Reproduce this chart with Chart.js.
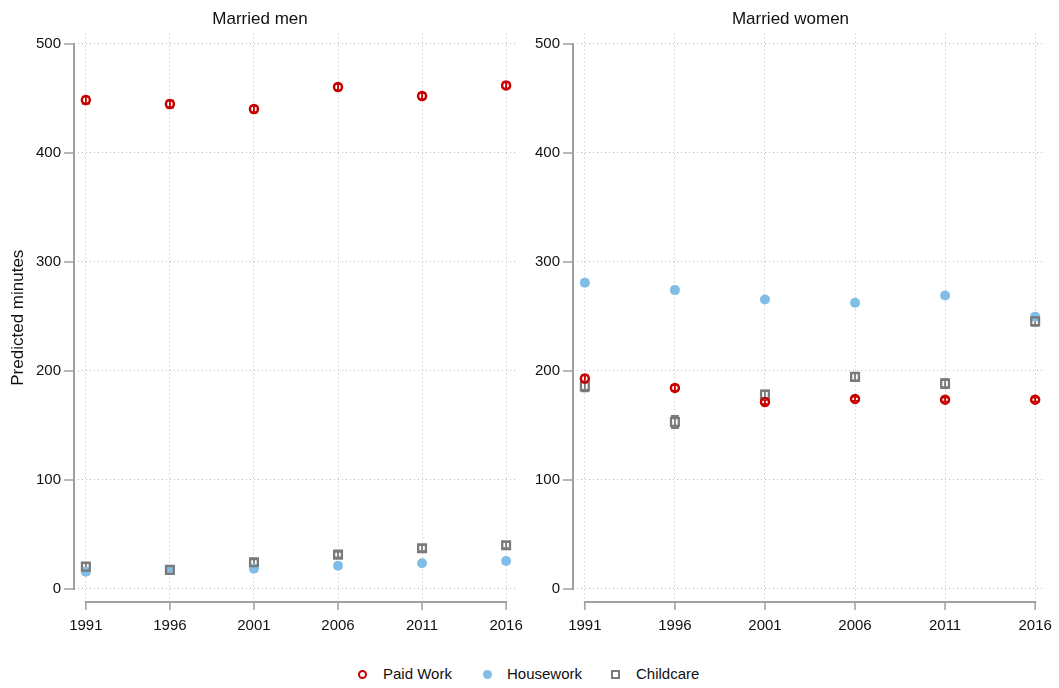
<!DOCTYPE html>
<html>
<head>
<meta charset="utf-8">
<script src="https://cdn.jsdelivr.net/npm/chart.js@4.4.1/dist/chart.umd.min.js"></script>
<style>
  html, body { margin: 0; padding: 0; background: #fff; }
  body { width: 1059px; height: 688px; position: relative; overflow: hidden;
         font-family: 'Liberation Sans Narrow', 'Arial Narrow', 'Liberation Sans', Arial, sans-serif; }
  canvas { position: absolute; top: 0; }
  #left { left: 0; }
  #right { left: 530px; }
  .legend { position: absolute; top: 664px; height: 20px; font-size: 15px; color: #111; }
  .key { position: absolute; top: 0; line-height: 20px; white-space: nowrap; }
  .mk { position: absolute; box-sizing: border-box; }
</style>
</head>
<body>
<canvas id="left" width="530" height="650"></canvas>
<canvas id="right" width="529" height="650"></canvas>
<div class="legend" id="legend"></div>
<script>
// Survey years and axis ticks
const years = [1991, 1996, 2001, 2006, 2011, 2016];
const yTicks = [0, 100, 200, 300, 400, 500];

// Married men: predicted minutes per day and 95% CI half-widths
const menPaid = [448.5, 444.9, 440.3, 460.5, 452.2, 462.0];
const menPaidCI = [3.2, 3.2, 3.0, 2.8, 2.8, 2.8];
const menHouse = [15.9, 17.5, 18.7, 21.4, 23.6, 25.7];
const menHouseCI = [1.5, 1.5, 1.5, 1.5, 1.5, 1.5];
const menChild = [20.5, 17.5, 24.5, 31.5, 37.4, 40.2];
const menChildCI = [3.3, 3.2, 2.8, 2.6, 2.8, 2.8];

// Married women
const womenPaid = [193.0, 184.5, 171.6, 174.4, 173.7, 173.7];
const womenPaidCI = [3.0, 2.5, 2.0, 1.8, 1.8, 1.8];
const womenHouse = [281.0, 274.2, 265.6, 262.6, 269.3, 249.7];
const womenHouseCI = [2.5, 2.5, 2.0, 2.0, 2.0, 2.5];
const womenChild = [185.9, 153.2, 178.3, 194.6, 188.4, 245.7];
const womenChildCI = [4.5, 5.5, 3.7, 3.5, 4.0, 4.2];

const seriesNames = ['Paid Work', 'Housework', 'Childcare'];

const FONT = "'Liberation Sans Narrow', 'Arial Narrow', 'Liberation Sans', Arial, sans-serif";
const RED = '#c80000';
const BLUE = '#80bee8';
const GRAY = '#7a7a7a';
const AXIS = '#a0a0a0';
const GRID = '#bcbcbc';

Chart.defaults.font.family = FONT;
Chart.defaults.color = '#111';

// Range-capped error bars, drawn underneath the markers
const errorBars = {
  id: 'errorBars',
  beforeDatasetsDraw(chart) {
    const ctx = chart.ctx;
    const yScale = chart.scales.y;
    chart.data.datasets.forEach((ds, di) => {
      const meta = chart.getDatasetMeta(di);
      ctx.save();
      ctx.strokeStyle = ds.borderColor;
      ctx.lineWidth = 1.8;
      meta.data.forEach((pt, i) => {
        const v = ds.data[i].y, e = ds.ci[i];
        const yl = yScale.getPixelForValue(v - e);
        const yh = yScale.getPixelForValue(v + e);
        const x = pt.x, w = 4;
        ctx.beginPath();
        ctx.moveTo(x, yl); ctx.lineTo(x, yh);
        ctx.moveTo(x - w, yl); ctx.lineTo(x + w, yl);
        ctx.moveTo(x - w, yh); ctx.lineTo(x + w, yh);
        ctx.stroke();
      });
      ctx.restore();
    });
  }
};

// Axis lines that span only the labelled range, with outward ticks
const rangeAxes = {
  id: 'rangeAxes',
  afterDraw(chart) {
    const { ctx, chartArea, scales: { x, y } } = chart;
    ctx.save();
    ctx.strokeStyle = AXIS;
    ctx.lineWidth = 2;
    ctx.lineCap = 'butt';
    const y0 = y.getPixelForValue(yTicks[0]);
    const y1 = y.getPixelForValue(yTicks[yTicks.length - 1]);
    const xl = chartArea.left;
    ctx.beginPath();
    ctx.moveTo(xl, y0 + 1); ctx.lineTo(xl, y1 - 1);
    ctx.stroke();
    ctx.lineWidth = 1.5;
    ctx.beginPath();
    yTicks.forEach(t => {
      const p = y.getPixelForValue(t);
      ctx.moveTo(xl - 10, p); ctx.lineTo(xl, p);
    });
    ctx.stroke();
    const x0 = x.getPixelForValue(years[0]);
    const x1 = x.getPixelForValue(years[years.length - 1]);
    const yb = chartArea.bottom;
    ctx.lineWidth = 2;
    ctx.beginPath();
    ctx.moveTo(x0 - 1, yb); ctx.lineTo(x1 + 1, yb);
    ctx.stroke();
    ctx.lineWidth = 1.5;
    ctx.beginPath();
    years.forEach(t => {
      const p = x.getPixelForValue(t);
      ctx.moveTo(p, yb); ctx.lineTo(p, yb + 8);
    });
    ctx.stroke();
    ctx.restore();
  }
};

function points(vals) {
  return years.map((yr, i) => ({ x: yr, y: vals[i] }));
}

function makePanel(id, title, paid, paidCI, house, houseCI, child, childCI, opts) {
  new Chart(document.getElementById(id), {
    type: 'scatter',
    data: {
      datasets: [
        { label: seriesNames[0], data: points(paid), ci: paidCI, order: 0,
          pointStyle: 'circle', pointRadius: 4, pointBorderWidth: 2.5,
          borderColor: RED, backgroundColor: 'rgba(0,0,0,0)' },
        { label: seriesNames[2], data: points(child), ci: childCI, order: 1,
          pointStyle: 'rect', pointRadius: 5.5, pointBorderWidth: 2.3,
          borderColor: GRAY, backgroundColor: 'rgba(0,0,0,0)' },
        { label: seriesNames[1], data: points(house), ci: houseCI, order: 2,
          pointStyle: 'circle', pointRadius: 5, pointBorderWidth: 0,
          borderColor: BLUE, backgroundColor: BLUE }
      ]
    },
    options: {
      responsive: false,
      animation: false,
      events: [],
      layout: { padding: { left: 0, right: opts.padRight, top: 0, bottom: 0 } },
      plugins: {
        legend: { display: false },
        tooltip: { enabled: false },
        title: {
          display: true, text: title, color: '#111',
          font: { size: 17, weight: 'normal', family: FONT },
          padding: { top: 9, bottom: 4 }
        }
      },
      scales: {
        x: {
          type: 'linear', min: opts.xmin, max: opts.xmax,
          afterBuildTicks: s => { s.ticks = years.map(v => ({ value: v })); },
          afterFit: s => { s.height = 48; },
          grid: { color: GRID, lineWidth: 1, drawTicks: true, tickLength: 8,
                  tickColor: 'rgba(0,0,0,0)' },
          border: { display: false, dash: [1, 3] },
          ticks: { padding: 7, autoSkip: false, maxRotation: 0, color: '#111',
                   font: { size: 15, family: FONT }, callback: v => String(v) }
        },
        y: {
          min: -11.94, max: 509.7,
          afterBuildTicks: s => { s.ticks = yTicks.map(v => ({ value: v })); },
          afterFit: s => { s.width = opts.yWidth; },
          grid: { color: GRID, lineWidth: 1, drawTicks: true, tickLength: 10,
                  tickColor: 'rgba(0,0,0,0)' },
          border: { display: false, dash: [1, 3] },
          ticks: { padding: 3, color: '#111', font: { size: 15, family: FONT },
                   callback: v => String(v) },
          title: { display: opts.yTitle, text: 'Predicted minutes', color: '#111',
                   font: { size: 17, family: FONT }, padding: { top: 8, bottom: 0 } }
        }
      }
    },
    plugins: [errorBars, rangeAxes]
  });
}

makePanel('left', 'Married men', menPaid, menPaidCI, menHouse, menHouseCI, menChild, menChildCI,
  { xmin: 1990.294, xmax: 2016.53, yWidth: 74, padRight: 10, yTitle: true });
makePanel('right', 'Married women', womenPaid, womenPaidCI, womenHouse, womenHouseCI, womenChild, womenChildCI,
  { xmin: 1990.342, xmax: 2016.548, yWidth: 43, padRight: 8, yTitle: false });

// Shared key under both panels
const legend = document.getElementById('legend');
const keyDefs = [
  { name: seriesNames[0], mx: 362, tx: 383,
    css: 'width:9px;height:9px;border:2.4px solid ' + RED + ';border-radius:50%;' },
  { name: seriesNames[1], mx: 487, tx: 507,
    css: 'width:9px;height:9px;background:' + BLUE + ';border-radius:50%;' },
  { name: seriesNames[2], mx: 615, tx: 636,
    css: 'width:9px;height:9px;border:2.2px solid ' + GRAY + ';' }
];
keyDefs.forEach(k => {
  const m = document.createElement('div');
  m.className = 'mk';
  m.style.cssText = k.css + 'left:' + (k.mx - 4.5) + 'px;top:' + (10 - 4.5) + 'px;';
  legend.appendChild(m);
  const t = document.createElement('div');
  t.className = 'key';
  t.style.left = k.tx + 'px';
  t.textContent = k.name;
  legend.appendChild(t);
});
</script>
</body>
</html>
